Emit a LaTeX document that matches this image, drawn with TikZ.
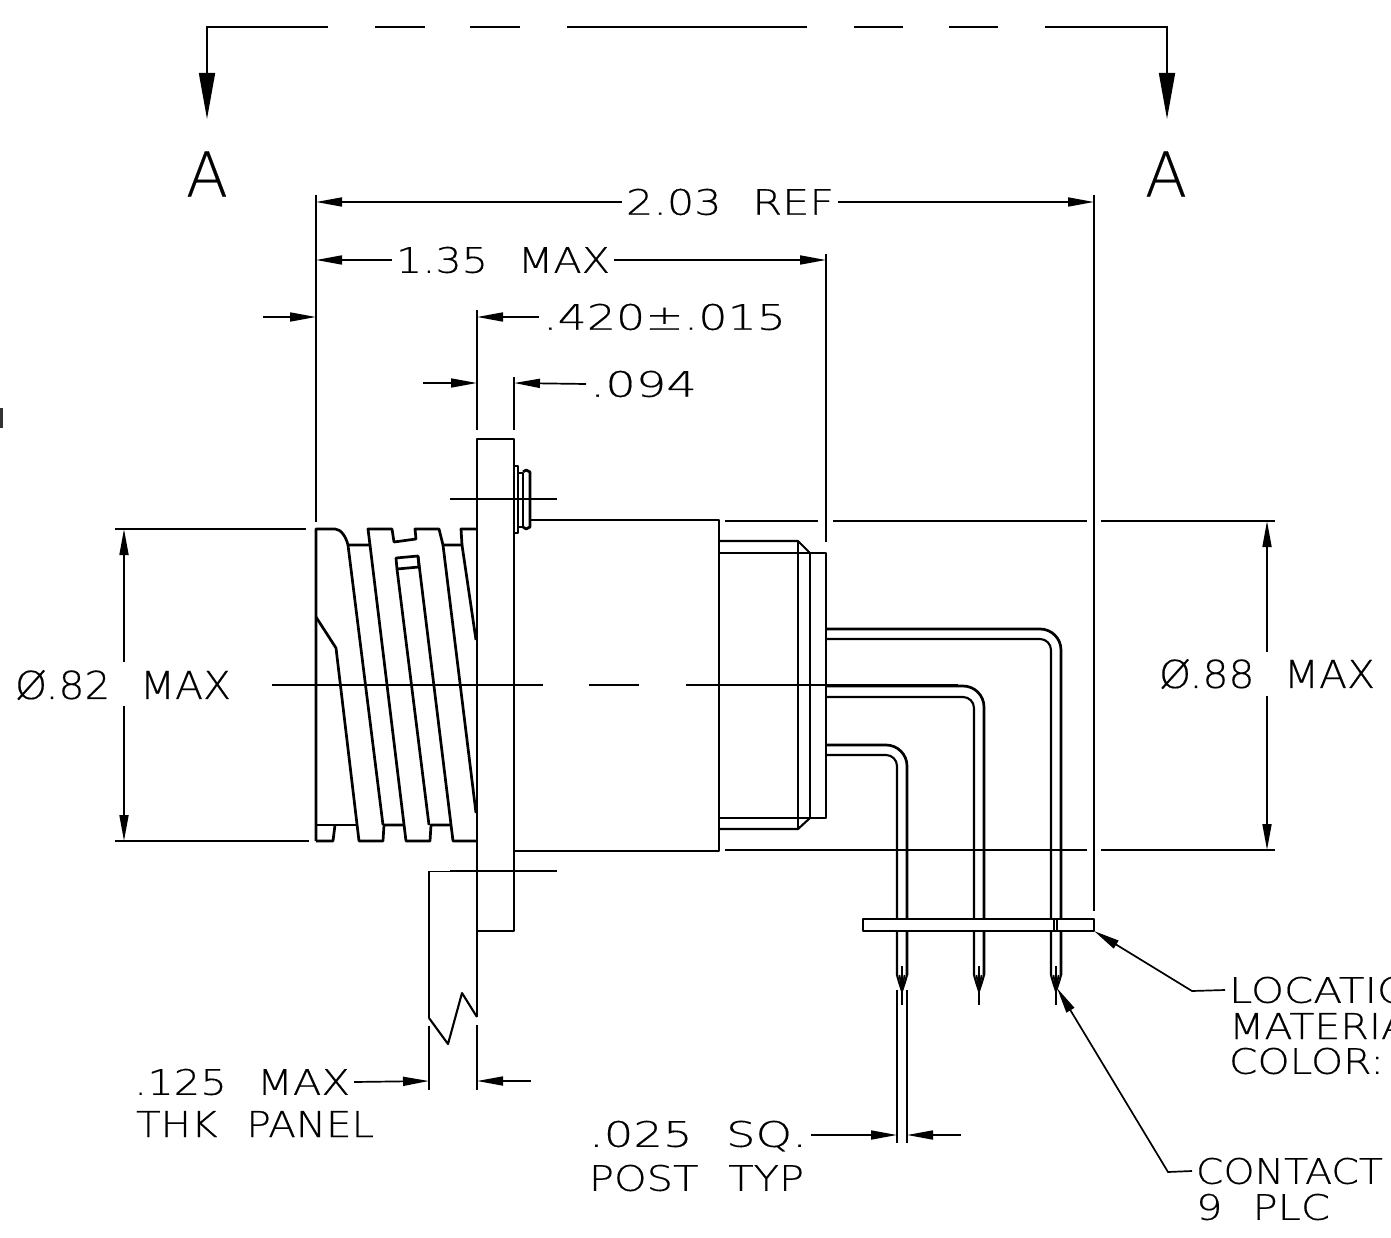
\documentclass[tikz,border=0pt]{standalone}
\usepackage{fontspec}
\usepackage{graphicx}
\usetikzlibrary{arrows.meta}
\setmainfont{DejaVu Sans ExtraLight}[FakeBold=0.35]
\newcommand{\gp}{\hspace{.72em}}
\newcommand{\cadt}[3]{\resizebox{#1pt}{#2pt}{#3}}
\tikzset{
  thick line/.style={line width=2.7pt,line join=round},
  thin line/.style={line width=1.7pt},
  med line/.style={line width=2.1pt,line join=round},
  dimarrow/.style={thin line,-{Triangle[length=26pt,width=9pt]}},
  secarrow/.style={thin line,-{Triangle[length=46pt,width=16pt]}},
  lbl/.style={inner sep=0pt,outer sep=4pt,anchor=west,black},
}
\begin{document}
\begin{tikzpicture}[x=1pt,y=-1pt]
\useasboundingbox (0,0) rectangle (1391,1238);
% clipped mark at the left edge
\draw[line width=5pt,black!80] (0,408) -- (0,428);

% section line
\coordinate (sl) at (207,119);
\coordinate (sr) at (1167,119);
\draw[secarrow] (328,27) -- (207,27) -- (sl);
\draw[secarrow] (1045,27) -- (1167,27) -- (sr);
\draw[thick line] (207,27) -- (328,27);
\draw[thick line] (1045,27) -- (1167,27);
\draw[thick line] (375,27) -- (425,27);
\draw[thick line] (470,27) -- (520,27);
\draw[thick line] (567,27) -- (807,27);
\draw[thick line] (854,27) -- (903,27);
\draw[thick line] (949,27) -- (998,27);
\node[lbl,anchor=center] (secA) at (207,174) {\cadt{42}{45}{A}};
\node[lbl,anchor=center] (secB) at (1166,174) {\cadt{42}{45}{A}};

% extension lines
\draw[thin line] (316,195) -- (316,522);
\draw[thin line] (1094,195) -- (1094,911);
\draw[thin line] (826,254) -- (826,542);
\draw[thin line] (477,310) -- (477,430);
\draw[thin line] (514,377) -- (514,430);
\draw[thin line] (115,529) -- (306,529);
\draw[thin line] (115,841) -- (309,841);
\draw[thin line] (725,521) -- (818,521);
\draw[thin line] (833,521) -- (1087,521);
\draw[thin line] (1101,521) -- (1275,521);
\draw[thin line] (725,850) -- (1087,850);
\draw[thin line] (1101,850) -- (1275,850);
\draw[thin line] (429,1026) -- (429,1090);
\draw[thin line] (477,1025) -- (477,1090);
\draw[thin line] (897,990) -- (897,1143);
\draw[thin line] (907,990) -- (907,1143);

% centre lines
\draw[thin line] (272,685) -- (543,685);
\draw[thin line] (589,685) -- (639,685);
\draw[thin line] (686,685) -- (958,685);
\draw[thin line] (450,499) -- (557,499);
\draw[thin line] (450,871) -- (557,871);

% threaded barrel
\draw[thick line] (316,841) -- (316,529) -- (335,529)
  .. controls (341,529) and (346,537) .. (348,545) -- (370,545) -- (368,529) -- (392,529)
  -- (394,542) -- (416,539) -- (415,529) -- (439,529) -- (443,545) -- (462,545)
  -- (461,529) -- (477,529);
\draw[thick line] (316,617) -- (336,648) -- (359,841) -- (383,841) -- (384,825) -- (404,825);
\draw[thick line] (348,545) -- (383,825);
\draw[thick line] (370,545) -- (406,841) -- (430,841) -- (431,825) -- (451,825);
\draw[thick line] (397,569) -- (429,825);
\draw[thick line] (418,556) -- (453,841) -- (477,841);
\draw[thick line] (443,545) -- (476,813);
\draw[thick line] (462,545) -- (476,640);
\draw[thick line] (396,558) -- (418,556) -- (419,567) -- (397,569) -- cycle;
\draw[thick line] (316,825) -- (357,825);
\draw[thick line] (316,841) -- (333,841) -- (335,825);

% flange and rear boss
\draw[thick line] (477,439) rectangle (514,931);
\draw[thick line] (514,466) -- (518,466) -- (518,533) -- (514,533);
\draw[thick line] (518,473) -- (523,473);
\draw[thick line] (518,527) -- (523,527);
\draw[thick line] (523,473) -- (523,527);
\draw[thick line] (523,472) -- (526,470) -- (530,472) -- (530,527) -- (526,529) -- (523,527);
\draw[thick line] (531,520) -- (719,520) -- (719,851) -- (514,851);

% rear shell
\draw[med line] (719,541) -- (798,541) -- (810,553);
\draw[med line] (719,553) -- (826,553) -- (826,818) -- (719,818);
\draw[med line] (719,829) -- (798,829) -- (810,818);
\draw[med line] (798,541) -- (798,829);
\draw[med line] (810,553) -- (810,818);

% pins
\draw[thick line,rounded corners=21pt] (826,629) -- (1061,629) -- (1061,975);
\draw[med line,rounded corners=11pt] (826,639) -- (1051,639) -- (1051,975);
\draw[thick line,rounded corners=21pt] (826,686) -- (984,686) -- (984,975);
\draw[med line,rounded corners=11pt] (826,697) -- (974,697) -- (974,975);
\draw[thick line,rounded corners=21pt] (826,745) -- (907,745) -- (907,975);
\draw[med line,rounded corners=11pt] (826,755) -- (897,755) -- (897,975);

% pin tips
\foreach \cx in {902,979,1056}{
  \draw[med line] (\cx-5,975) -- (\cx-3,982) -- (\cx,991) -- (\cx+3,982) -- (\cx+5,975);
  \draw[thin line] (\cx-2.5,975) -- (\cx,991) -- (\cx+2.5,975);
  \draw[med line] (\cx,966) -- (\cx,1005);
}

% locating plate
\draw[thick line,fill=white] (863,919) rectangle (1094,931);
\draw[med line] (1054,919) -- (1054,931);
\draw[med line] (1057,919) -- (1057,931);

% panel
\draw[thin line] (477,871.5) -- (429,871.5) -- (429,1018);
\draw[med line] (429,1018) -- (448,1044) -- (462,993) -- (477,1017);
\draw[thin line] (477,931) -- (477,1017);

% labels
\node[lbl] (t203) at (622,202) {\cadt{208}{26}{2.03\gp REF}};
\node[lbl] (t135) at (392,260) {\cadt{214}{26}{1.35\gp MAX}};
\node[lbl] (t420) at (539,317) {\cadt{243}{26}{.420±.015}};
\node[lbl] (t094) at (586,384) {\cadt{107}{26}{.094}};
\node[lbl] (t082) at (11,685) {\cadt{216}{29}{Ø.82\gp MAX}};
\node[lbl] (t088) at (1155,674) {\cadt{216}{29}{Ø.88\gp MAX}};
\node[lbl] (t125) at (130,1082) {\cadt{216}{26}{.125\gp MAX}};
\node[lbl] (tthk) at (132,1124) {\cadt{238}{26}{THK\gp PANEL}};
\node[lbl] (t025) at (585,1136) {\cadt{218}{26}{.025\gp SQ.}};
\node[lbl] (tpost) at (585,1178) {\cadt{215}{26}{POST\gp TYP}};
\node[lbl] (tloc) at (1225,990) {\cadt{181}{26}{LOCATIO}};
\node[lbl] (tmat) at (1225,1026) {\cadt{180}{26}{MATERIA}};
\node[lbl] (tcol) at (1225,1061) {\cadt{155}{26}{COLOR:}};
\node[lbl] (tcon) at (1192,1171) {\cadt{187}{26}{CONTACT}};
\node[lbl] (tplc) at (1192,1207) {\cadt{134}{26}{9\gp PLC}};

% dimension arrows
\coordinate (a203l) at (316,202);
\coordinate (a203r) at (1094,202);
\coordinate (a135l) at (316,260);
\coordinate (a135r) at (826,260);
\coordinate (a420) at (477,317);
\coordinate (a420o) at (263,317);
\coordinate (a420t) at (316,317);
\coordinate (a094) at (514,383);
\coordinate (a094o) at (423,383);
\coordinate (a094t) at (477,383);
\coordinate (a125) at (429,1081);
\coordinate (a125r) at (477,1081);
\coordinate (a125o) at (531,1081);
\coordinate (a025) at (897,1135);
\coordinate (a025r) at (907,1135);
\coordinate (a025o) at (961,1135);
\coordinate (a82t) at (124,529);
\coordinate (a82b) at (124,841);
\coordinate (a88t) at (1267,521);
\coordinate (a88b) at (1267,850);
\coordinate (a82m) at (124,662);
\coordinate (a82n) at (124,706);
\coordinate (a88m) at (1267,652);
\coordinate (a88n) at (1267,696);
\draw[dimarrow] (t203.west) -- (a203l);
\draw[dimarrow] (t203.east) -- (a203r);
\draw[dimarrow] (t135.west) -- (a135l);
\draw[dimarrow] (t135.east) -- (a135r);
\draw[dimarrow] (a420o) -- (a420t);
\draw[dimarrow] (t420.west) -- (a420);
\draw[dimarrow] (a094o) -- (a094t);
\draw[dimarrow] (t094.west) -- (a094);
\draw[dimarrow] (t125.east) -- (a125);
\draw[dimarrow] (a125o) -- (a125r);
\draw[dimarrow] (t025.east |- a025) -- (a025);
\draw[dimarrow] (a025o) -- (a025r);
\draw[dimarrow] (a82m) -- (a82t);
\draw[dimarrow] (a82n) -- (a82b);
\draw[dimarrow] (a88m) -- (a88t);
\draw[dimarrow] (a88n) -- (a88b);

% leaders
\coordinate (ltip) at (1094,931);
\coordinate (lbend) at (1192,991);
\coordinate (ctip) at (1057,988);
\coordinate (cbend) at (1168,1172);
\draw[dimarrow] (tloc.west) -- (lbend) -- (ltip);
\draw[dimarrow] (tcon.west) -- (cbend) -- (ctip);
\end{tikzpicture}
\end{document}
